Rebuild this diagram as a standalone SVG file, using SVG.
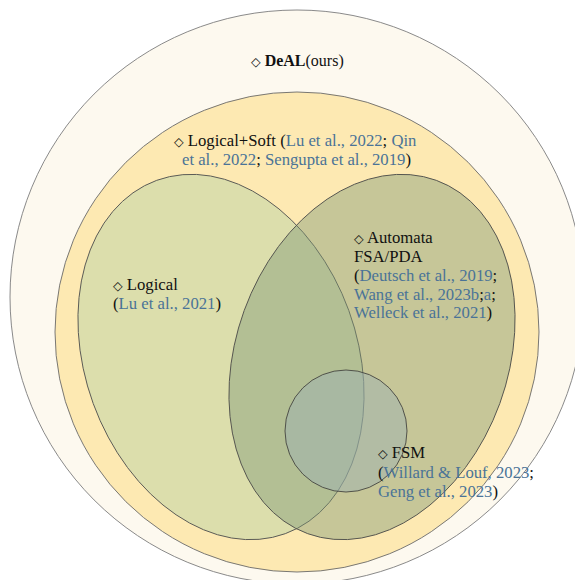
<svg xmlns="http://www.w3.org/2000/svg" width="575" height="580" viewBox="0 0 575 580">
<style>
text{font-family:"Liberation Serif","Times New Roman",serif;font-size:16.7px;fill:#111}
.c{fill:#4a7397}
.d{font-family:"DejaVu Sans",sans-serif;font-size:12.5px;fill:#111}
.b{font-weight:bold}
</style>
<rect width="575" height="580" fill="#ffffff"/>
<g id="deal">
<circle cx="297" cy="297" r="287" fill="#fdf9ef" stroke="#8a8a8a" stroke-width="1"/>
</g>
<g id="logical-soft">
<ellipse cx="297" cy="332" rx="242" ry="240" fill="#fde9b2" stroke="#6a6a6a" stroke-width="0.9"/>
</g>
<g id="logical">
<ellipse cx="221" cy="357" rx="136" ry="188" transform="rotate(-20 221 357)" fill="#dcdeac" stroke="#5a5a55" stroke-width="0.9"/>
</g>
<g id="automata">
<ellipse cx="372" cy="357" rx="136" ry="188" transform="rotate(20 372 357)" fill="#809976" fill-opacity="0.44" stroke="#55554f" stroke-width="0.9"/>
</g>
<g id="fsm">
<circle cx="346" cy="431" r="61" fill="#9cb0b2" fill-opacity="0.47" stroke="#45453f" stroke-width="0.9"/>
</g>
<g id="labels">
<text x="251" y="66" style="font-size:16px"><tspan class="d">◇</tspan> <tspan class="b">DeAL</tspan>(ours)</text>
<text x="174" y="146"><tspan class="d">◇</tspan> Logical+Soft (<tspan class="c">Lu et al., 2022</tspan>; <tspan class="c">Qin</tspan></text>
<text x="182" y="165"><tspan class="c">et al., 2022</tspan>; <tspan class="c">Sengupta et al., 2019</tspan>)</text>
<text x="113" y="290"><tspan class="d">◇</tspan> Logical</text>
<text x="113" y="309">(<tspan class="c">Lu et al., 2021</tspan>)</text>
<text x="354" y="243"><tspan class="d">◇</tspan> Automata</text>
<text x="354" y="262">FSA/PDA</text>
<text x="354" y="281">(<tspan class="c">Deutsch et al., 2019</tspan>;</text>
<text x="354" y="300"><tspan class="c">Wang et al., 2023b</tspan>;<tspan class="c">a</tspan>;</text>
<text x="354" y="318"><tspan class="c">Welleck et al., 2021</tspan>)</text>
<text x="378" y="458"><tspan class="d">◇</tspan> FSM</text>
<text x="378" y="478">(<tspan class="c">Willard &amp; Louf, 2023</tspan>;</text>
<text x="378" y="497"><tspan class="c">Geng et al., 2023</tspan>)</text>
</g>
<g id="connectors"></g>
</svg>
